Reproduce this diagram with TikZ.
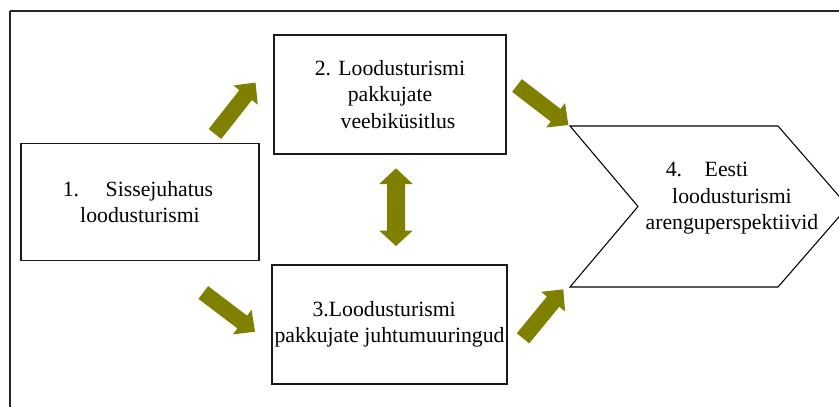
\documentclass[tikz,border=0pt]{standalone}
\usepackage{fontspec}
\setmainfont{Liberation Serif}
\usetikzlibrary{calc}
\definecolor{olivearrow}{HTML}{808000}
\tikzset{
  boxnode/.style={draw=black!90, line width=0.9pt, fill=white, inner sep=0pt, align=center,
    font=\fontsize{16.3}{19.9}\selectfont},
  txtnode/.style={inner sep=0pt, align=center, font=\fontsize{16.3}{19.9}\selectfont},
  chevronline/.style={draw=black, line width=0.8pt, fill=white, line join=miter},
  framelinetop/.style={draw=black!85, line width=1.3pt},
  framelineleft/.style={draw=black!85, line width=0.8pt},
  blockfill/.style={fill=olivearrow}
}
\newcommand\blockarrow[2]{%
  \coordinate (bah) at ($(#2)!12pt!(#1)$);
  \fill[blockfill] ($(#1)!6pt!90:(#2)$) -- ($(bah)!6pt!90:(#2)$) -- ($(bah)!11.6pt!90:(#2)$)
    -- (#2) -- ($(bah)!11.6pt!-90:(#2)$) -- ($(bah)!6pt!-90:(#2)$) -- ($(#1)!6pt!-90:(#2)$) -- cycle;
}
\begin{document}
\begin{tikzpicture}[x=0.75pt,y=-0.75pt]
\useasboundingbox (0,0) rectangle (839,407);
\clip (0,0) rectangle (839,407);
\fill[white] (0,0) rectangle (839,407);

% outer frame
\draw[framelineleft] (10,407) -- (10,11);
\draw[framelinetop] (10,11) -- (839,11);

% boxes
\node[boxnode, minimum width=178.5pt, minimum height=87.75pt] (b1) at (140,202)
  {1.\hspace{20pt}Sissejuhatus\hspace*{3pt}\\loodusturismi};
\node[boxnode, minimum width=174pt, minimum height=89.25pt] (b2) at (390,94.5)
  {2. Loodusturismi\\pakkujate\hspace*{5pt}\\\hspace*{12pt}veebiküsitlus};
\node[boxnode, minimum width=176.25pt, minimum height=89.25pt] (b3) at (389.5,324.5)
  {3.Loodusturismi\hspace*{8pt}\\pakkujate juhtumuuringud};

% chevron
\coordinate (c1) at (570,126);
\coordinate (c2) at (778,126);
\coordinate (c3) at (848,206.5);
\coordinate (c4) at (778,287);
\coordinate (c5) at (570,287);
\coordinate (c6) at (638,206.5);
\draw[chevronline] (c1) -- (c2) -- (c3) -- (c4) -- (c5) -- (c6) -- cycle;
\node[txtnode] (b4) at (732,198.5)
  {4.\hspace{17pt}Eesti\hspace*{37.5pt}\\loodusturismi\\arenguperspektiivid};

% block arrows
\coordinate (a1t) at (215,134);   \coordinate (a1p) at (255.5,82.5);
\coordinate (a2t) at (517,85.5);  \coordinate (a2p) at (568.3,125);
\coordinate (a3t) at (203.3,292.5); \coordinate (a3p) at (255,331.7);
\coordinate (a4t) at (523,338.3); \coordinate (a4p) at (563.3,289.3);
\blockarrow{a1t}{a1p}
\blockarrow{a2t}{a2p}
\blockarrow{a3t}{a3p}
\blockarrow{a4t}{a4p}

% double arrow
\coordinate (dtop) at (396,168.3);
\coordinate (dbot) at (396,246);
\fill[blockfill] (dtop) -- (412.7,184) -- (405,184) -- (405,230.7) -- (412.7,230.7)
  -- (dbot) -- (379.3,230.7) -- (387,230.7) -- (387,184) -- (379.3,184) -- cycle;
\end{tikzpicture}
\end{document}
